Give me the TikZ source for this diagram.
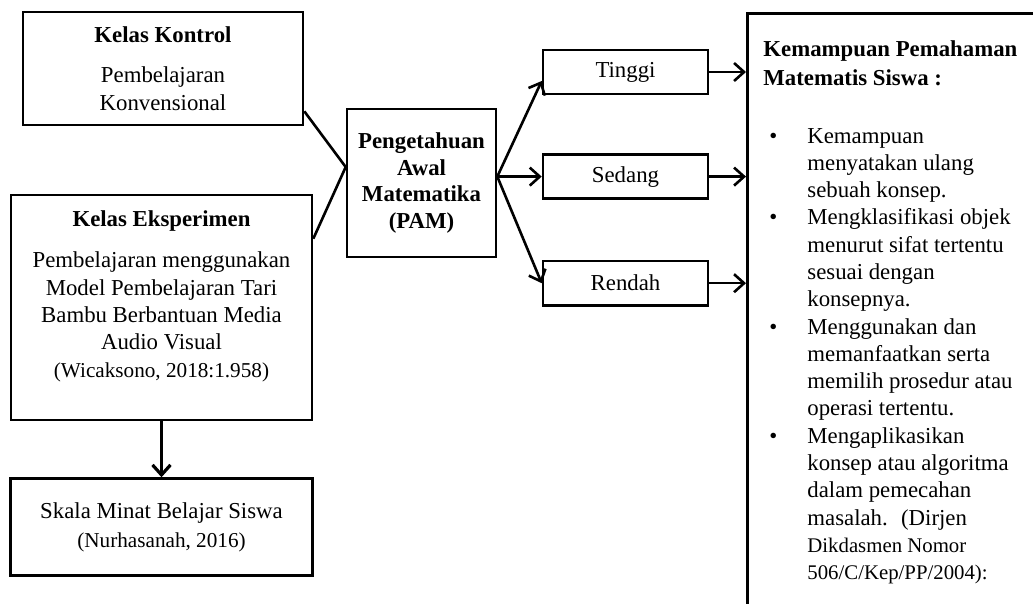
\documentclass[tikz,border=0pt]{standalone}
\usepackage{fontspec}
\setmainfont{Liberation Serif}
\usetikzlibrary{positioning, arrows.meta}

\begin{document}
\begin{tikzpicture}[x=0.5pt, y=-0.5pt,
	kotak/.style={draw, line width=1.3pt, align=center, inner sep=0pt, font=\fontsize{11.4}{13.7}\selectfont},
	garis/.style={line width=1.3pt},
	panah/.style={line width=1.3pt, -{Straight Barb[length=5pt,width=9pt]}}]
		\useasboundingbox (0,0) rectangle (1033,604);
		\clip (0,0) rectangle (1033,604);
		\node[kotak, minimum width=140pt, minimum height=56.5pt] (kontrol) at (163,68.5) {\textbf{Kelas Kontrol}\\[6.5pt] Pembelajaran\\ Konvensional};
		\node[kotak, minimum width=150.5pt, minimum height=112.5pt] (eksperimen) at (161.5,307.5) {\textbf{Kelas Eksperimen}\\[7pt] Pembelajaran menggunakan\\ Model Pembelajaran Tari\\ Bambu Berbantuan Media\\ Audio Visual\\ {\fontsize{10.6}{13.7}\selectfont (Wicaksono, 2018:1.958)}\\ \mbox{}};
		\node[kotak, below=28pt of eksperimen, minimum width=151pt, minimum height=48.5pt] (skala) {Skala Minat Belajar Siswa\\[1pt] {\fontsize{10.6}{13.7}\selectfont (Nurhasanah, 2016)}};
		\node[kotak, font=\fontsize{11.4}{13.4}\selectfont\bfseries, minimum width=74.5pt, minimum height=74pt] (pam) at (421.5,183) {Pengetahuan\\ Awal\\ Matematika\\ (PAM)};
		\node[kotak, minimum width=82.5pt, minimum height=22pt] (tinggi) at (625.5,72) {Tinggi};
		\node[kotak, below=29pt of tinggi, minimum width=82.5pt, minimum height=22pt] (sedang) {Sedang};
		\node[kotak, below=30pt of sedang, minimum width=82.5pt, minimum height=22pt] (rendah) {Rendah};
		\node[draw, line width=1.3pt, anchor=north west, inner sep=0pt, minimum width=190pt, minimum height=320pt] (hasil) at (746,12) {};
		\node[anchor=base west, inner sep=0pt, font=\fontsize{11.4}{13.64}\selectfont] (isi) at (763,57) {%
			\begin{tabular}[t]{@{}p{22pt}@{}l@{}}
				\multicolumn{2}{@{}l@{}}{\textbf{Kemampuan Pemahaman}}\\[0.4pt]
				\multicolumn{2}{@{}l@{}}{\textbf{Matematis Siswa :}}\\[15.4pt]
				\hspace*{3pt}\textbullet & Kemampuan\\
				& menyatakan ulang\\
				& sebuah konsep.\\
				\hspace*{3pt}\textbullet & Mengklasifikasi objek\\
				& menurut sifat tertentu\\
				& sesuai dengan\\
				& konsepnya.\\
				\hspace*{3pt}\textbullet & Menggunakan dan\\
				& memanfaatkan serta\\
				& memilih prosedur atau\\
				& operasi tertentu.\\
				\hspace*{3pt}\textbullet & Mengaplikasikan\\
				& konsep atau algoritma\\
				& dalam pemecahan\\
				& masalah. \ (Dirjen\\
				& {\fontsize{10.4}{13.64}\selectfont Dikdasmen Nomor}\\
				& {\fontsize{10.4}{13.64}\selectfont 506/C/Kep/PP/2004):}
			\end{tabular}};

		\coordinate (temu) at ([yshift=8pt]pam.west);
		\draw[garis] ([yshift=7.5pt]kontrol.south east) -- (temu);
		\draw[garis] ([yshift=-22.5pt]eksperimen.north east) -- (temu);
		\draw[panah, line width=1.6pt] (eksperimen) -- (skala);
		\coordinate (cabang) at (pam.east |- sedang.west);
		\draw[panah] (cabang) -- ([yshift=-4.5pt]tinggi.west);
		\draw[panah] (cabang) -- (sedang);
		\draw[panah] (cabang) -- (rendah.west);
		\draw[panah] (tinggi) -- (tinggi -| hasil.west);
		\draw[panah] (sedang) -- (sedang -| hasil.west);
		\draw[panah] (rendah) -- (rendah -| hasil.west);
	\end{tikzpicture}
\end{document}
